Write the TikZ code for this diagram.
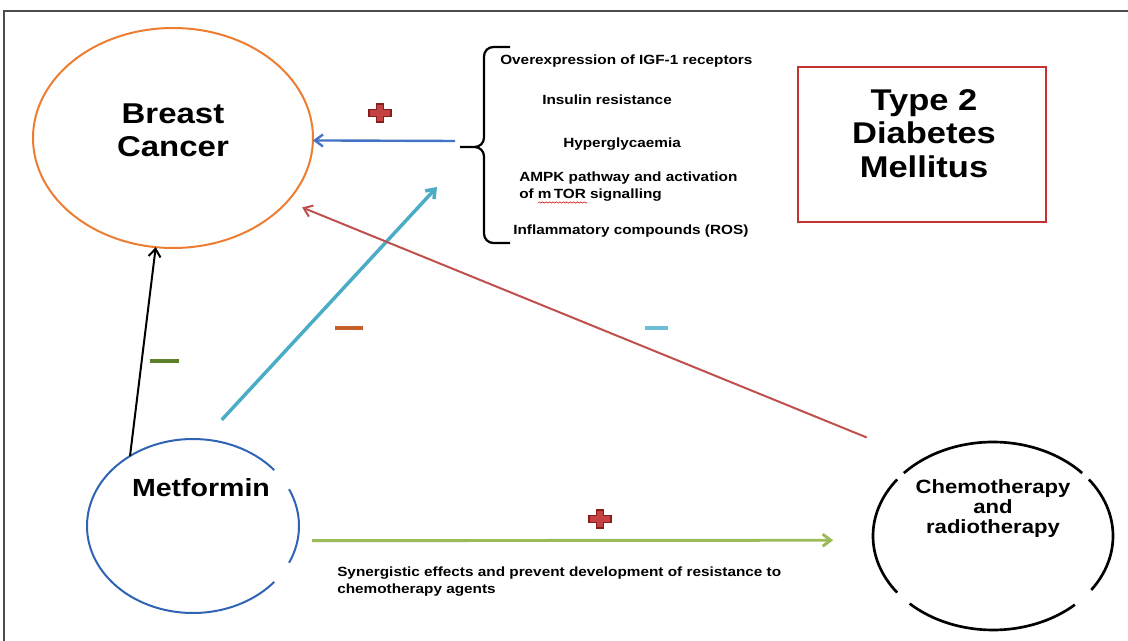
\documentclass[tikz,border=0pt]{standalone}
\usepackage{fontspec}
\setmainfont[FakeStretch=1.15]{Liberation Sans}
\usetikzlibrary{arrows.meta,shapes.geometric,decorations.pathmorphing}

\definecolor{cancerorange}{RGB}{237,125,49}
\definecolor{metblue}{RGB}{47,100,180}
\definecolor{linkblue}{RGB}{68,114,196}
\definecolor{aqua}{RGB}{75,172,198}
\definecolor{brick}{RGB}{192,80,77}
\definecolor{boxred}{RGB}{196,50,50}
\definecolor{leaf}{RGB}{155,187,89}
\definecolor{minusgreen}{RGB}{94,128,42}
\definecolor{rust}{RGB}{197,97,38}
\definecolor{skyminus}{RGB}{110,190,215}
\definecolor{plusfill}{RGB}{196,66,66}
\definecolor{plusedge}{RGB}{135,30,30}

\tikzset{
  blob/.style={ellipse, inner sep=0pt, outer sep=0pt},
  bigtxt/.style={font=\bfseries\fontsize{21.5}{24.75}\selectfont, align=center, inner sep=0pt},
  midtxt/.style={font=\bfseries\fontsize{14.4}{15}\selectfont, align=center, inner sep=0pt},
  smalltxt/.style={font=\bfseries\fontsize{10}{12.75}\selectfont, inner sep=0pt, anchor=base west},
  flow/.style={-{Straight Barb[length=6pt,width=9pt]}, line width=1.5pt},
  minusbar/.style={line width=2.3pt},
}

\newcommand\redplus[1]{%
  \filldraw[fill=plusfill, draw=plusedge, line width=0.8pt, shift={(#1)}]
    (-3.5,-9) -- (3.5,-9) -- (3.5,-3.5) -- (11,-3.5) -- (11,3.5) -- (3.5,3.5)
    -- (3.5,9) -- (-3.5,9) -- (-3.5,3.5) -- (-11,3.5) -- (-11,-3.5) -- (-3.5,-3.5) -- cycle;%
}

\begin{document}
\begin{tikzpicture}[x=0.75pt,y=-0.75pt]
\fill[white] (0,0) rectangle (1128,641);
\useasboundingbox (0,0) rectangle (1128,641);
\draw[gray!60!black, line width=1.1pt] (4,641) -- (4,11) -- (1128,11); % frame

% the three ellipses
\node[blob, draw=cancerorange, line width=1.5pt, minimum width=210pt, minimum height=165pt] (breast) at (173,138) {};
\node[blob, minimum width=159pt, minimum height=130.5pt] (metformin) at (193,526) {};
\node[blob, minimum width=180pt, minimum height=141pt] (chemo) at (993,536) {};
\foreach \a/\b in {40/320,-25/25}
  \draw[metblue, line width=1.5pt] (metformin.center) ++(\a:79.5pt and 65.25pt)
    arc[start angle=\a, end angle=\b, x radius=79.5pt, y radius=65.25pt];
\foreach \a/\b in {42/138,143/217,226/313,325/397}
  \draw[black, line width=2pt] (chemo.center) ++(\a:90pt and 70.5pt)
    arc[start angle=\a, end angle=\b, x radius=90pt, y radius=70.5pt];

\node[bigtxt] (breasttxt) at (173,130) {Breast\\Cancer};
\node[bigtxt, font=\bfseries\fontsize{18.6}{20}\selectfont] (mettxt) at (201,488) {Metformin};
\node[midtxt] (chemotxt) at (993,509) {Chemotherapy\\and\\radiotherapy};

% diabetes box
\node[draw=boxred, line width=1.5pt, minimum width=186pt, minimum height=116pt] (diabetes) at (922,144.5) {};
\node[bigtxt, font=\bfseries\fontsize{22.5}{25}\selectfont] (t2dm) at (924,133.5) {Type 2\\Diabetes\\Mellitus};

% list of factors
\node[smalltxt] (igf) at (500,65) {Overexpression of IGF-1 receptors};
\node[smalltxt] (insulin) at (542,105) {Insulin resistance};
\node[smalltxt] (glyc) at (563,148) {Hyperglycaemia};
\node[smalltxt] (ampk) at (519,182) {AMPK pathway and activation};
\node[smalltxt] (mtor) at (519,199) {of m\,TOR signalling};
\node[smalltxt] (ros) at (513,235) {Inflammatory compounds (ROS)};
\draw[red!80!black, decorate, decoration={snake, amplitude=0.5pt, segment length=2.6pt}] (538,202.5) -- (587,202.5);

\coordinate (brace tip) at (460,147);
\draw[black, line width=1.7pt, rounded corners=7pt]
  (510,47) -- (484,47) -- (484,147) -- (brace tip)
  (brace tip) -- (484,147) -- (484,243) -- (510,243);

% connectors
\coordinate (blue tail) at (455,141);
\coordinate (cyan head) at (437,187);
\draw[flow, linkblue, line width=1.8pt] (blue tail) -- (breast.-1);
\draw[flow, black] (metformin.132) -- (breast.261);
\draw[flow, aqua, line width=2.6pt, shorten <=20pt] (metformin.83) -- (cyan head);
\draw[flow, brick, shorten <=45pt, shorten >=12pt] (chemo.133) -- (breast.-29);
\draw[flow, leaf, line width=2.2pt, shorten <=11pt, shorten >=30pt] (metformin.-8) -- (chemo.182.4);

\node[smalltxt] (synergy) at (337,576) {Synergistic effects and prevent development of resistance to};
\node[smalltxt] (agents) at (337,593) {chemotherapy agents};

% signs
\redplus{380,113}
\redplus{600,519}
\draw[minusbar, minusgreen] (150,361) -- (179,361);
\draw[minusbar, rust] (335,328) -- (363,328);
\draw[minusbar, skyminus] (645,328) -- (668,328);

\end{tikzpicture}
\end{document}
